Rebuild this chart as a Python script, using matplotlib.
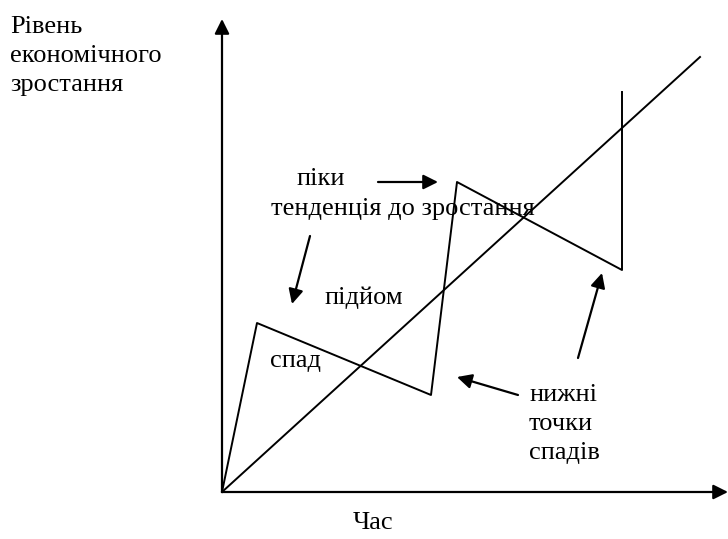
import matplotlib
matplotlib.use('Agg')
import matplotlib.pyplot as plt

plt.rcParams['font.family'] = ['Liberation Serif', 'DejaVu Serif']

# cycle path (time, level)
cycle_t = [0, 35, 209, 235, 400, 400]
cycle_y = [0, 169, 97, 310, 222, 400]

# trend line
trend_t = [0, 478]
trend_y = [0, 435]

# labels: (text, x, y)
labels = [
    ('піки', 74, 313),
    ('тенденція до зростання', 49, 283),
    ('підйом', 102, 194),
    ('спад', 48, 131),
    ('нижні\nточки\nспадів', 307, 68),
    ('Рівень\nекономічного\nзростання', -212, 436),
    ('Час', 131, -31),
]

# pointer arrows: (start, tip)
pointers = [
    ((156, 310), (216, 310)),
    ((88, 256), (70, 188)),
    ((296, 97), (235, 115)),
    ((356, 134), (380, 219)),
]

fig = plt.figure(figsize=(7.28, 5.39), dpi=100)
ax = fig.add_axes([0, 0, 1, 1])
ax.set_xlim(-222, 506)
ax.set_ylim(-47, 492)
ax.axis('off')

arrow = dict(arrowstyle='-|>', mutation_scale=22, lw=1.6, color='black',
             shrinkA=0, shrinkB=0)

# axes with arrow heads
ax.annotate('', xy=(0, 473), xytext=(0, 0), arrowprops=arrow)
ax.annotate('', xy=(506, 0), xytext=(0, 0), arrowprops=arrow)

ax.plot(cycle_t, cycle_y, color='black', lw=1.4)
ax.plot(trend_t, trend_y, color='black', lw=1.4)

for start, tip in pointers:
    ax.annotate('', xy=tip, xytext=start, arrowprops=arrow)

for txt, x, y in labels:
    ax.text(x, y, txt, fontsize=19, va='center', linespacing=1.4)

fig.savefig('out.png', dpi=100)
